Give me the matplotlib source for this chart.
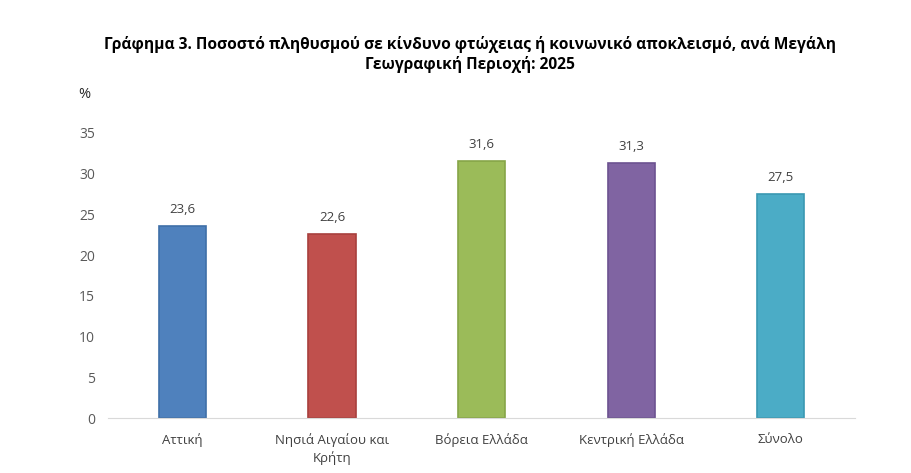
import matplotlib.pyplot as plt
import numpy as np

regions = ["Αττική", "Νησιά Αιγαίου και\nΚρήτη", "Βόρεια Ελλάδα", "Κεντρική Ελλάδα", "Σύνολο"]
values = [23.6, 22.6, 31.6, 31.3, 27.5]
colors = ["#4F81BD", "#C0504D", "#9BBB59", "#8064A2", "#4BACC6"]
edges = ["#3F6FA8", "#A8403D", "#86A548", "#6C5290", "#3A98B2"]

plt.rcParams['font.family'] = ['Open Sans', 'DejaVu Sans']

fig = plt.figure(figsize=(9.12, 4.73), dpi=100)
ax = fig.add_axes([0.118, 0.116, 0.82, 0.603])

x = np.arange(len(regions))
ax.bar(x, values, width=0.315, color=colors, edgecolor=edges, linewidth=1.2, zorder=2)
for xi, v in zip(x, values):
    ax.text(xi, v + 1.2, f"{v:.1f}".replace(".", ","), ha='center', va='bottom',
            fontsize=9.5, color='#404040')

ax.set_xlim(-0.5, len(regions) - 0.5)
ax.set_ylim(0, 35)
ax.set_yticks(np.arange(0, 36, 5))
ax.set_xticks(x)
ax.set_xticklabels(regions, fontsize=9.5, color='#404040', linespacing=1.35)
ax.tick_params(axis='y', length=0, labelsize=10, labelcolor='#595959', pad=9)
ax.tick_params(axis='x', length=0, pad=11)
for s in ['top', 'right', 'left']:
    ax.spines[s].set_visible(False)
ax.spines['bottom'].set_color('#D9D9D9')

fig.text(0.086, 0.8, "%", fontsize=10.5, color='#262626', ha='left', va='center')
fig.text(0.515, 0.885, "Γράφημα 3. Ποσοστό πληθυσμού σε κίνδυνο φτώχειας ή κοινωνικό αποκλεισμό, ανά Μεγάλη\nΓεωγραφική Περιοχή: 2025",
         ha='center', va='center', fontsize=11.2, fontweight='bold', color='#000000', linespacing=1.25)

fig.savefig("out.png", dpi=100)
